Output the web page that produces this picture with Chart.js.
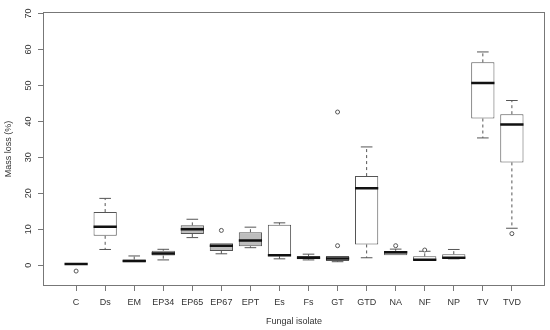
<!DOCTYPE html>
<html>
<head>
<meta charset="utf-8">
<script src="https://cdn.jsdelivr.net/npm/chart.js@4"></script>
<style>
  body { margin: 0; background: #fff; }
  #wrap { width: 550px; height: 330px; }
</style>
</head>
<body>
<div id="wrap"><canvas id="massChart" width="550" height="330"></canvas></div>
<script>
// box plot stats per isolate
const categories = ['C', 'Ds', 'EM', 'EP34', 'EP65', 'EP67', 'EPT', 'Es', 'Fs', 'GT', 'GTD', 'NA', 'NF', 'NP', 'TV', 'TVD'];
const whiskerLow = [0.3, 4.4, 0.85, 1.5, 7.7, 3.2, 4.9, 1.8, 1.5, 1.0, 2.1, 2.8, 1.4, 1.8, 35.4, 10.3];
const q1 = [0.3, 8.2, 0.85, 2.7, 8.7, 4.0, 5.3, 2.5, 1.65, 1.2, 5.8, 2.8, 1.4, 1.9, 40.8, 28.6];
const median = [0.35, 10.7, 1.2, 3.3, 10.0, 5.45, 6.9, 2.8, 2.1, 1.9, 21.4, 3.6, 1.55, 2.1, 50.7, 39.1];
const q3 = [0.3, 14.8, 1.6, 4.05, 11.1, 6.1, 9.2, 11.3, 2.6, 2.6, 24.8, 4.0, 2.5, 3.1, 56.4, 42.0];
const whiskerHigh = [0.3, 18.6, 2.6, 4.45, 12.8, 6.1, 10.6, 11.8, 3.1, 2.6, 32.9, 4.5, 3.9, 4.4, 59.3, 45.8];
// outliers: category index + value
const outlierCat = [0, 5, 9, 9, 11, 12, 15];
const outlierVal = [-1.6, 9.7, 5.45, 42.6, 5.45, 4.25, 8.8];
const yTicks = [0, 10, 20, 30, 40, 50, 60, 70];

// isolates drawn with grey boxes
const greyBoxes = ['EM', 'EP34', 'EP65', 'EP67', 'EPT', 'Fs', 'NA'];

const textColor = '#333';
const lineColor = '#555';
const baseFont = { family: "'Liberation Sans', Arial, sans-serif", size: 9 };

const boxParts = {
    id: 'boxParts',
    beforeDatasetsDraw(chart) {
        const ctx = chart.ctx;
        const xs = chart.scales.x, ys = chart.scales.y;
        const bars = chart.getDatasetMeta(0).data;
        ctx.save();
        ctx.strokeStyle = lineColor;
        ctx.lineWidth = 1;
        categories.forEach((c, i) => {
            const x = xs.getPixelForValue(i);
            const cap = bars[i].width * 0.5;
            // dashed whiskers
            ctx.setLineDash([3, 3]);
            ctx.beginPath();
            ctx.moveTo(x, ys.getPixelForValue(q3[i]));
            ctx.lineTo(x, ys.getPixelForValue(whiskerHigh[i]));
            ctx.moveTo(x, ys.getPixelForValue(q1[i]));
            ctx.lineTo(x, ys.getPixelForValue(whiskerLow[i]));
            ctx.stroke();
            // caps
            ctx.setLineDash([]);
            ctx.beginPath();
            [whiskerHigh[i], whiskerLow[i]].forEach(v => {
                if (v === q1[i] || v === q3[i]) return;
                const y = ys.getPixelForValue(v);
                ctx.moveTo(x - cap / 2, y);
                ctx.lineTo(x + cap / 2, y);
            });
            ctx.stroke();
        });
        ctx.restore();
    },
    afterDatasetsDraw(chart) {
        const ctx = chart.ctx;
        const ys = chart.scales.y;
        const bars = chart.getDatasetMeta(0).data;
        const area = chart.chartArea;
        ctx.save();
        // medians
        ctx.strokeStyle = '#111';
        ctx.lineWidth = 2.5;
        ctx.beginPath();
        bars.forEach((b, i) => {
            const y = ys.getPixelForValue(median[i]);
            ctx.moveTo(b.x - b.width / 2, y);
            ctx.lineTo(b.x + b.width / 2, y);
        });
        ctx.stroke();
        // frame
        ctx.strokeStyle = '#777';
        ctx.lineWidth = 1;
        ctx.strokeRect(area.left + 0.5, area.top + 0.5, area.right - area.left - 1, area.bottom - area.top - 1);
        // vertical y tick labels (R style)
        ctx.fillStyle = textColor;
        ctx.font = '9px ' + baseFont.family;
        ctx.textAlign = 'center';
        ctx.textBaseline = 'middle';
        ys.ticks.forEach(t => {
            ctx.save();
            ctx.translate(area.left - 14, ys.getPixelForValue(t.value));
            ctx.rotate(-Math.PI / 2);
            ctx.fillText(String(t.value), 0, 0);
            ctx.restore();
        });
        ctx.restore();
    }
};

new Chart(document.getElementById('massChart'), {
    type: 'bar',
    data: {
        datasets: [{
            type: 'bar',
            data: categories.map((c, i) => ({ x: i, y: [q1[i], q3[i]] })),
            backgroundColor: categories.map(c => greyBoxes.includes(c) ? '#bdbdbd' : '#ffffff'),
            borderColor: lineColor,
            borderWidth: 1,
            borderSkipped: false,
            barPercentage: 0.8,
            categoryPercentage: 1.0
        }, {
            type: 'scatter',
            data: outlierCat.map((c, i) => ({ x: c, y: outlierVal[i] })),
            pointStyle: 'circle',
            pointRadius: 2,
            pointBorderWidth: 1,
            borderColor: '#555',
            backgroundColor: '#fff'
        }]
    },
    options: {
        responsive: false,
        animation: false,
        layout: { padding: { top: 12, right: 2, left: 0, bottom: 0 } },
        plugins: { legend: { display: false }, tooltip: { enabled: false } },
        scales: {
            x: {
                type: 'linear',
                min: -1.14,
                max: 16.14,
                offset: false,
                afterBuildTicks: s => { s.ticks = categories.map((c, i) => ({ value: i })); },
                afterFit: s => { s.height = 44; },
                ticks: {
                    callback: v => categories[v],
                    autoSkip: false,
                    maxRotation: 0,
                    padding: 6,
                    color: textColor,
                    font: baseFont
                },
                grid: { drawOnChartArea: false, drawTicks: true, tickLength: 5, color: '#777', offset: false },
                border: { display: false },
                title: { display: true, text: 'Fungal isolate', color: textColor, font: baseFont, padding: { top: 0, bottom: 3 } }
            },
            y: {
                min: -5.75,
                max: 70.4,
                afterBuildTicks: s => { s.ticks = yTicks.map(v => ({ value: v })); },
                afterFit: s => { s.width = 43; },
                ticks: { display: false },
                grid: { drawOnChartArea: false, drawTicks: true, tickLength: 5, color: '#777' },
                border: { display: false },
                title: { display: true, text: 'Mass loss (%)', color: textColor, font: baseFont, padding: { top: 3, bottom: 0 } }
            }
        }
    },
    plugins: [boxParts]
});
</script>
</body>
</html>
